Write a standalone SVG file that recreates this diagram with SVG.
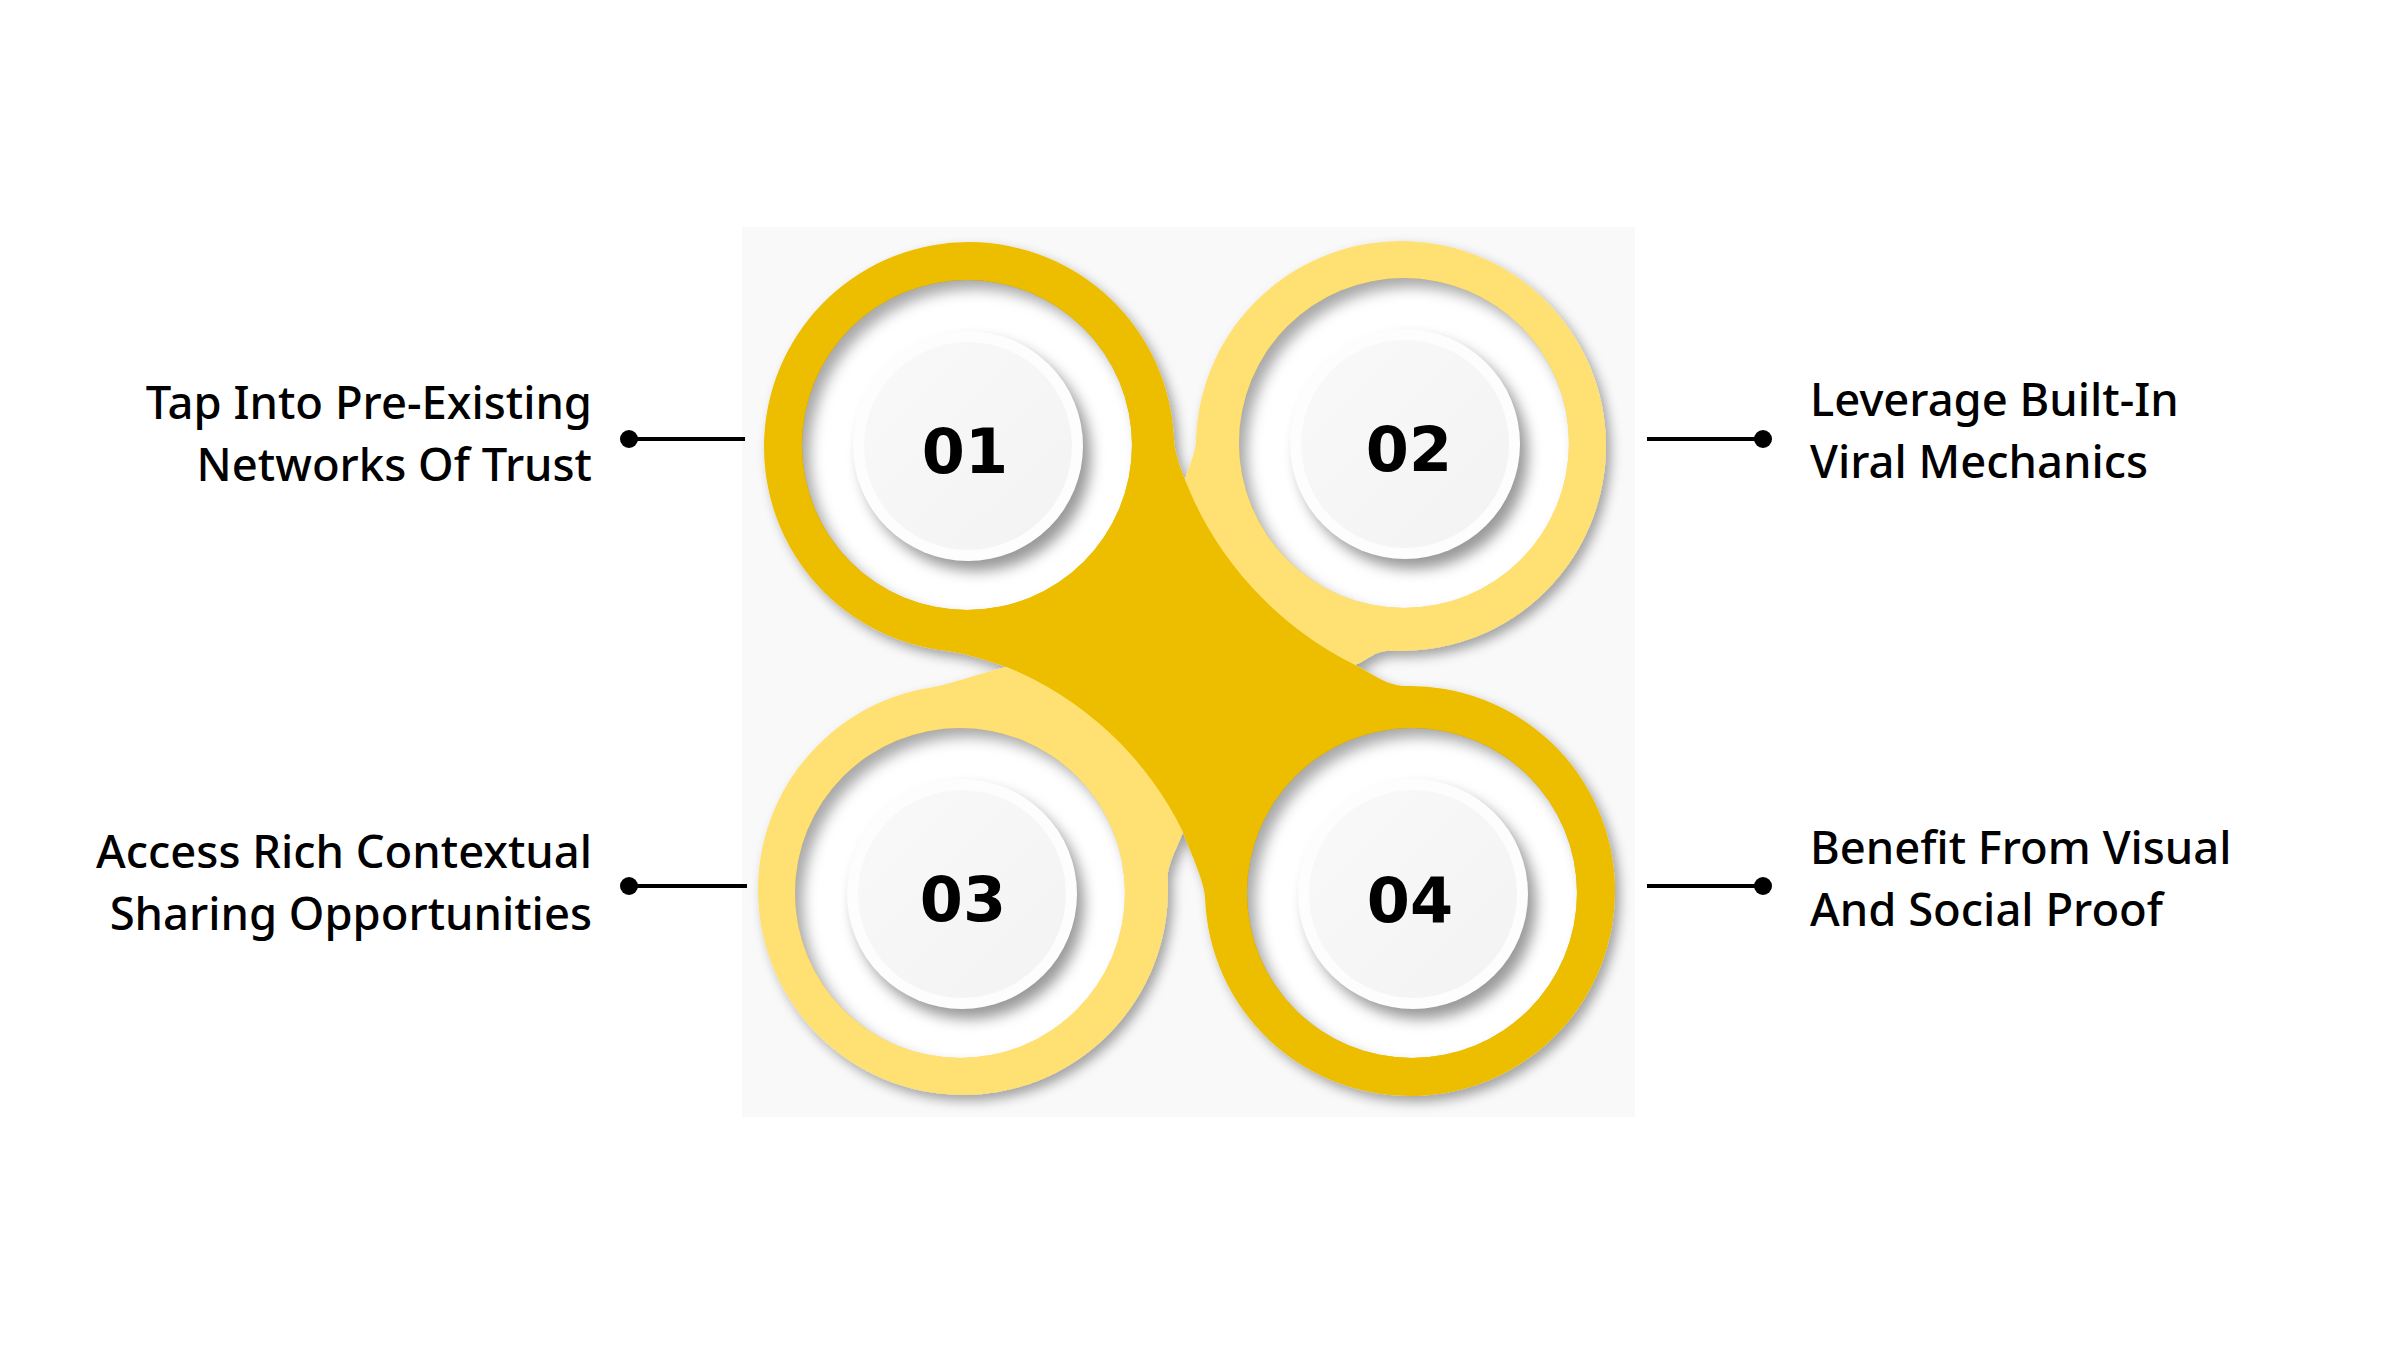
<svg xmlns="http://www.w3.org/2000/svg" width="2400" height="1350" viewBox="0 0 2400 1350">
  <style>
    .lbl { font-family: "Noto Sans", "Open Sans", sans-serif; font-weight: 500; font-size: 45.4px; fill: #000; }
    .num { font-family: "DejaVu Sans", sans-serif; font-weight: bold; font-size: 62px; fill: #000; text-anchor: middle; }
    .dark { fill: #EDBD00; }
    .light { fill: #FFE173; }
    .hole { fill: #ffffff; }
    .ishadow { fill: none; stroke: #000; stroke-opacity: 0.34; stroke-width: 40; }
    .dshadow { fill: #000; fill-opacity: 0.4; }
    .rim { fill: #fdfdfd; }
    .face { fill: url(#faceGrad); }
    .conn line { stroke: #000; stroke-width: 4; }
    .conn circle { fill: #000; }
  </style>
  <defs>
    <filter id="drop" x="-20%" y="-20%" width="140%" height="140%">
      <feDropShadow dx="5" dy="6" stdDeviation="6" flood-color="#000" flood-opacity="0.35"/>
    </filter>
    <filter id="blur" x="-20%" y="-20%" width="140%" height="140%">
      <feGaussianBlur stdDeviation="7"/>
    </filter>
    <linearGradient id="faceGrad" x1="0" y1="0" x2="1" y2="1">
      <stop offset="0" stop-color="#f9f9f9"/>
      <stop offset="1" stop-color="#f3f3f3"/>
    </linearGradient>
    <clipPath id="c1"><circle cx="967" cy="445" r="165"/></clipPath>
    <clipPath id="c2"><circle cx="1404" cy="443" r="165"/></clipPath>
    <clipPath id="c3"><circle cx="960" cy="893" r="165"/></clipPath>
    <clipPath id="c4"><circle cx="1412" cy="893" r="165"/></clipPath>
  </defs>

  <rect x="0" y="0" width="2400" height="1350" fill="#ffffff"/>
  <rect x="742" y="227" width="893" height="890" fill="#f9f9f9"/>

  <!-- lobes silhouette -->
  <g id="spinner" filter="url(#drop)">
    <path class="dark" d="M 1185 480 C 1180 466 1174.6 454.3 1173.7 436.3 A 205 205 0 1 0 944 650.5 C 968.8 653.5 992.6 662.6 1007 667 L 1183 832 C 1187 845 1204.5 880.2 1205.1 898.2 A 205 205 0 1 0 1405 686.1 C 1385 685.6 1366 669.7 1355 665 Z"/>
    <path class="light" d="M 1185 480 C 1187.7 468.4 1195.5 454.8 1196.1 438.8 A 205 205 0 1 1 1390.3 650.7 C 1375.3 649.9 1366.3 660.9 1355 665 A 350 350 0 0 1 1185 480 Z"/>
    <path class="light" d="M 1007 667 C 987.6 670.6 950.8 684.4 930.9 687.5 A 205 205 0 1 0 1167.7 879.3 C 1167 864.3 1179.3 843.4 1183 832 A 340 340 0 0 0 1007 667 Z"/>
  </g>

  <g id="node-01">
    <g clip-path="url(#c1)">
      <circle class="hole" cx="967" cy="445" r="165"/>
      <circle class="ishadow" cx="975" cy="454" r="185" filter="url(#blur)"/>
    </g>
    <circle class="dshadow" cx="976" cy="456" r="115" filter="url(#blur)"/>
    <circle class="rim" cx="968" cy="446" r="115"/>
    <circle class="face" cx="968" cy="446" r="104"/>
    <text class="num" x="965" y="473">01</text>
  </g>

  <g id="node-02">
    <g clip-path="url(#c2)">
      <circle class="hole" cx="1404" cy="443" r="165"/>
      <circle class="ishadow" cx="1412" cy="452" r="185" filter="url(#blur)"/>
    </g>
    <circle class="dshadow" cx="1413" cy="454" r="115" filter="url(#blur)"/>
    <circle class="rim" cx="1405" cy="444" r="115"/>
    <circle class="face" cx="1405" cy="444" r="104"/>
    <text class="num" x="1409" y="471">02</text>
  </g>

  <g id="node-03">
    <g clip-path="url(#c3)">
      <circle class="hole" cx="960" cy="893" r="165"/>
      <circle class="ishadow" cx="968" cy="902" r="185" filter="url(#blur)"/>
    </g>
    <circle class="dshadow" cx="969" cy="904" r="115" filter="url(#blur)"/>
    <circle class="rim" cx="962" cy="894" r="115"/>
    <circle class="face" cx="962" cy="894" r="104"/>
    <text class="num" x="963" y="921">03</text>
  </g>

  <g id="node-04">
    <g clip-path="url(#c4)">
      <circle class="hole" cx="1412" cy="893" r="165"/>
      <circle class="ishadow" cx="1420" cy="902" r="185" filter="url(#blur)"/>
    </g>
    <circle class="dshadow" cx="1421" cy="904" r="115" filter="url(#blur)"/>
    <circle class="rim" cx="1413" cy="894" r="115"/>
    <circle class="face" cx="1413" cy="894" r="104"/>
    <text class="num" x="1410" y="922">04</text>
  </g>

  <g id="connectors" class="conn">
    <line x1="629" y1="439" x2="745" y2="439"/>
    <circle cx="629" cy="439" r="9"/>
    <line x1="1647" y1="439" x2="1763" y2="439"/>
    <circle cx="1763" cy="439" r="9"/>
    <line x1="629" y1="886" x2="747" y2="886"/>
    <circle cx="629" cy="886" r="9"/>
    <line x1="1647" y1="886" x2="1763" y2="886"/>
    <circle cx="1763" cy="886" r="9"/>
  </g>

  <g id="label-01">
    <text class="lbl" x="592" y="419" text-anchor="end">Tap Into Pre-Existing</text>
    <text class="lbl" x="592" y="481" text-anchor="end">Networks Of Trust</text>
  </g>
  <g id="label-02">
    <text class="lbl" x="1810" y="416">Leverage Built-In</text>
    <text class="lbl" x="1810" y="478">Viral Mechanics</text>
  </g>
  <g id="label-03">
    <text class="lbl" x="592" y="868" text-anchor="end">Access Rich Contextual</text>
    <text class="lbl" x="592" y="930" text-anchor="end">Sharing Opportunities</text>
  </g>
  <g id="label-04">
    <text class="lbl" x="1810" y="864">Benefit From Visual</text>
    <text class="lbl" x="1810" y="926">And Social Proof</text>
  </g>
</svg>
